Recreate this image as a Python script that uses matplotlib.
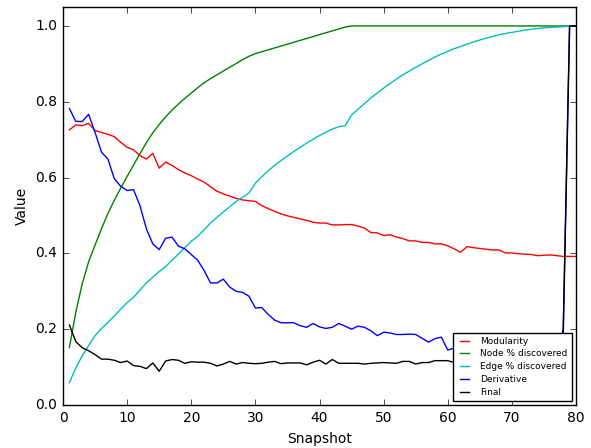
import matplotlib
matplotlib.use("Agg")
import matplotlib.pyplot as plt

snapshots = list(range(1, 81))

modularity = [
    0.726, 0.739, 0.737, 0.743, 0.724, 0.719, 0.714, 0.708, 0.693, 0.680,
    0.673, 0.658, 0.649, 0.664, 0.625, 0.641, 0.632, 0.621, 0.612, 0.605,
    0.596, 0.588, 0.576, 0.564, 0.557, 0.551, 0.545, 0.541, 0.539, 0.537,
    0.526, 0.518, 0.511, 0.504, 0.499, 0.495, 0.491, 0.487, 0.482, 0.480,
    0.480, 0.475, 0.475, 0.476, 0.476, 0.472, 0.467, 0.455, 0.454, 0.447,
    0.449, 0.443, 0.439, 0.433, 0.433, 0.429, 0.429, 0.425, 0.425, 0.420,
    0.412, 0.403, 0.418, 0.415, 0.413, 0.411, 0.409, 0.409, 0.401, 0.401,
    0.399, 0.398, 0.397, 0.394, 0.395, 0.396, 0.394, 0.392, 0.392, 0.392,
]

node_discovered = [
    0.152, 0.245, 0.320, 0.378, 0.422, 0.465, 0.505, 0.540, 0.572, 0.603,
    0.633, 0.663, 0.692, 0.718, 0.740, 0.760, 0.778, 0.794, 0.809, 0.823,
    0.837, 0.850, 0.861, 0.871, 0.881, 0.891, 0.901, 0.911, 0.920, 0.927,
    0.932, 0.937, 0.942, 0.947, 0.952, 0.957, 0.962, 0.967, 0.972, 0.977,
    0.982, 0.987, 0.992, 0.997, 1.000, 1.000, 1.000, 1.000, 1.000, 1.000,
    1.000, 1.000, 1.000, 1.000, 1.000, 1.000, 1.000, 1.000, 1.000, 1.000,
    1.000, 1.000, 1.000, 1.000, 1.000, 1.000, 1.000, 1.000, 1.000, 1.000,
    1.000, 1.000, 1.000, 1.000, 1.000, 1.000, 1.000, 1.000, 1.000, 1.000,
]

edge_discovered = [
    0.059, 0.098, 0.130, 0.157, 0.183, 0.202, 0.218, 0.235, 0.253, 0.270,
    0.284, 0.303, 0.322, 0.337, 0.352, 0.365, 0.382, 0.398, 0.415, 0.432,
    0.445, 0.462, 0.480, 0.495, 0.509, 0.523, 0.537, 0.548, 0.559, 0.585,
    0.602, 0.618, 0.632, 0.645, 0.657, 0.669, 0.680, 0.691, 0.701, 0.711,
    0.720, 0.728, 0.734, 0.737, 0.765, 0.780, 0.795, 0.810, 0.823, 0.836,
    0.848, 0.860, 0.871, 0.881, 0.891, 0.900, 0.909, 0.918, 0.926, 0.933,
    0.940, 0.946, 0.952, 0.958, 0.963, 0.968, 0.972, 0.977, 0.980, 0.983,
    0.986, 0.989, 0.991, 0.993, 0.995, 0.996, 0.997, 0.998, 0.999, 1.000,
]

derivative = [
    0.782, 0.748, 0.748, 0.767, 0.719, 0.667, 0.649, 0.597, 0.577, 0.566,
    0.568, 0.526, 0.465, 0.425, 0.410, 0.440, 0.443, 0.419, 0.412, 0.397,
    0.382, 0.355, 0.322, 0.322, 0.332, 0.311, 0.300, 0.297, 0.287, 0.256,
    0.257, 0.239, 0.224, 0.217, 0.217, 0.217, 0.209, 0.205, 0.215, 0.206,
    0.202, 0.205, 0.215, 0.208, 0.200, 0.208, 0.205, 0.196, 0.183, 0.192,
    0.190, 0.186, 0.186, 0.187, 0.186, 0.176, 0.166, 0.175, 0.179, 0.145,
    0.150, 0.158, 0.152, 0.149, 0.157, 0.153, 0.150, 0.158, 0.154, 0.150,
    0.154, 0.159, 0.151, 0.155, 0.160, 0.156, 0.162, 0.170, 1.000, 1.000,
]

final = [
    0.211, 0.167, 0.151, 0.143, 0.133, 0.121, 0.121, 0.118, 0.112, 0.116,
    0.104, 0.102, 0.096, 0.111, 0.089, 0.116, 0.120, 0.118, 0.110, 0.114,
    0.113, 0.113, 0.110, 0.103, 0.108, 0.115, 0.108, 0.112, 0.110, 0.109,
    0.110, 0.113, 0.115, 0.109, 0.111, 0.111, 0.111, 0.106, 0.113, 0.118,
    0.108, 0.120, 0.110, 0.110, 0.110, 0.110, 0.108, 0.110, 0.111, 0.112,
    0.111, 0.110, 0.115, 0.115, 0.108, 0.112, 0.112, 0.117, 0.117, 0.117,
    0.112, 0.110, 0.114, 0.111, 0.113, 0.110, 0.112, 0.114, 0.111, 0.110,
    0.113, 0.112, 0.110, 0.114, 0.112, 0.113, 0.115, 0.200, 1.000, 1.000,
]

plt.style.use("classic")
plt.rcParams["font.family"] = ["DejaVu Sans"]
plt.rcParams["font.size"] = 10

fig = plt.figure(figsize=(5.91, 4.48), dpi=100, facecolor="white")
ax = fig.add_axes([63 / 591, 1 - 405 / 448, (576 - 63) / 591, (405 - 7) / 448])

ax.plot(snapshots, modularity, color="r", lw=1.0, label="Modularity")
ax.plot(snapshots, node_discovered, color="g", lw=1.0, label="Node % discovered")
ax.plot(snapshots, edge_discovered, color="c", lw=1.0, label="Edge % discovered")
ax.plot(snapshots, derivative, color="b", lw=1.0, label="Derivative")
ax.plot(snapshots, final, color="k", lw=1.0, label="Final")

ax.set_xlim(0, 80)
ax.set_ylim(0, 1.05)
ax.set_xticks(range(0, 81, 10))
ax.set_yticks([0.0, 0.2, 0.4, 0.6, 0.8, 1.0])
ax.set_xlabel("Snapshot")
ax.set_ylabel("Value")
ax.tick_params(labelsize=10)

leg = ax.legend(loc="lower right", fontsize=6.5, frameon=True, fancybox=False,
                handlelength=1.6, labelspacing=0.42, borderpad=0.45,
                handletextpad=1.0, borderaxespad=0.45)
leg.get_frame().set_edgecolor("black")

fig.savefig("out.png", dpi=100, facecolor="white")
